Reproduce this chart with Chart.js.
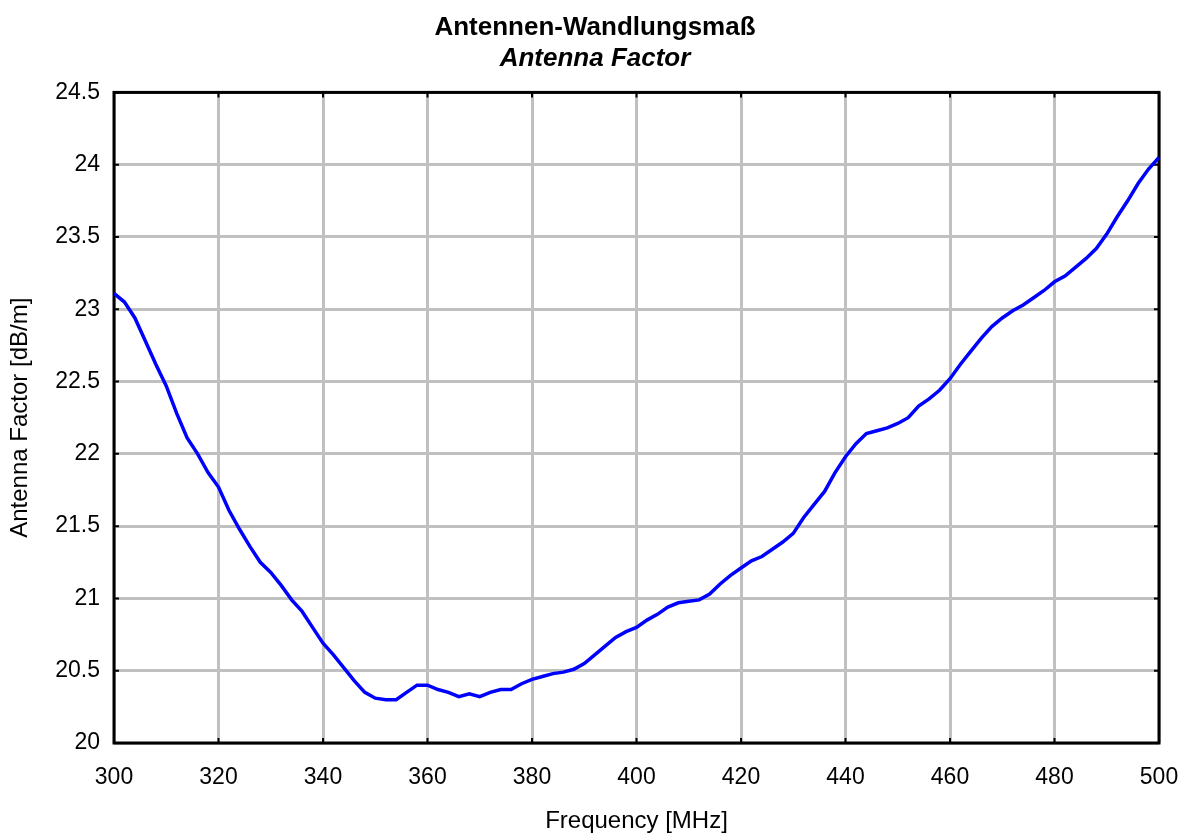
<!DOCTYPE html>
<html>
<head>
<meta charset="utf-8">
<title>Antenna Factor</title>
<script src="https://cdn.jsdelivr.net/npm/chart.js@4"></script>
<style>
  html, body { margin: 0; padding: 0; background: #fff; }
  canvas { display: block; }
</style>
</head>
<body>
<canvas id="afChart" width="1190" height="836"></canvas>
<script>
// frequency in MHz, antenna factor in dB/m
const freqMHz = [
  300, 302, 304, 306, 308, 310, 312, 314, 316, 318,
  320, 322, 324, 326, 328, 330, 332, 334, 336, 338,
  340, 342, 344, 346, 348, 350, 352, 354, 356, 358,
  360, 362, 364, 366, 368, 370, 372, 374, 376, 378,
  380, 382, 384, 386, 388, 390, 392, 394, 396, 398,
  400, 402, 404, 406, 408, 410, 412, 414, 416, 418,
  420, 422, 424, 426, 428, 430, 432, 434, 436, 438,
  440, 442, 444, 446, 448, 450, 452, 454, 456, 458,
  460, 462, 464, 466, 468, 470, 472, 474, 476, 478,
  480, 482, 484, 486, 488, 490, 492, 494, 496, 498,
  500
];
const antennaFactor = [
  23.11, 23.05, 22.94, 22.78, 22.62, 22.47, 22.28, 22.11, 22.00, 21.87,
  21.77, 21.61, 21.48, 21.36, 21.25, 21.18, 21.09, 20.99, 20.91, 20.80,
  20.69, 20.61, 20.52, 20.43, 20.35, 20.31, 20.30, 20.30, 20.35, 20.40,
  20.40, 20.37, 20.35, 20.32, 20.34, 20.32, 20.35, 20.37, 20.37, 20.41,
  20.44, 20.46, 20.48, 20.49, 20.51, 20.55, 20.61, 20.67, 20.73, 20.77,
  20.80, 20.85, 20.89, 20.94, 20.97, 20.98, 20.99, 21.03, 21.10, 21.16,
  21.21, 21.26, 21.29, 21.34, 21.39, 21.45, 21.56, 21.65, 21.74, 21.87,
  21.98, 22.07, 22.14, 22.16, 22.18, 22.21, 22.25, 22.33, 22.38, 22.44,
  22.52, 22.62, 22.71, 22.80, 22.88, 22.94, 22.99, 23.03, 23.08, 23.13,
  23.19, 23.23, 23.29, 23.35, 23.42, 23.52, 23.64, 23.75, 23.87, 23.97,
  24.05
];
const xTicks = [300, 320, 340, 360, 380, 400, 420, 440, 460, 480, 500];
const yTicks = [20, 20.5, 21, 21.5, 22, 22.5, 23, 23.5, 24, 24.5];

const titleMain = 'Antennen-Wandlungsmaß';
const titleSub = 'Antenna Factor';
const xLabel = 'Frequency [MHz]';
const yLabel = 'Antenna Factor [dB/m]';

const FONT = 'Arial, "Liberation Sans", Helvetica, sans-serif';

// black box around the plot with small inward ticks
const frameBox = {
  id: 'frameBox',
  beforeDatasetsDraw(chart) {
    const { ctx, chartArea: a, scales } = chart;
    const tl = 5;
    ctx.save();
    ctx.strokeStyle = '#000';
    ctx.lineWidth = 2;
    ctx.beginPath();
    xTicks.forEach(v => {
      const px = scales.x.getPixelForValue(v);
      ctx.moveTo(px, a.bottom); ctx.lineTo(px, a.bottom - tl);
      ctx.moveTo(px, a.top); ctx.lineTo(px, a.top + tl);
    });
    yTicks.forEach(v => {
      const py = scales.y.getPixelForValue(v);
      ctx.moveTo(a.left, py); ctx.lineTo(a.left + tl, py);
      ctx.moveTo(a.right, py); ctx.lineTo(a.right - tl, py);
    });
    ctx.stroke();
    ctx.lineWidth = 3;
    ctx.strokeRect(a.left, a.top, a.right - a.left, a.bottom - a.top);
    ctx.restore();
  }
};

const ctx = document.getElementById('afChart').getContext('2d');
const afChart = new Chart(ctx, {
  type: 'line',
  data: {
    datasets: [{
      label: titleSub,
      data: freqMHz.map((f, i) => ({ x: f, y: antennaFactor[i] })),
      borderColor: '#0000ff',
      borderWidth: 3.5,
      pointRadius: 0,
      tension: 0,
      fill: false
    }]
  },
  options: {
    responsive: false,
    animation: false,
    layout: { padding: 0 },
    plugins: {
      legend: { display: false },
      tooltip: { enabled: false },
      title: {
        display: true,
        text: titleMain,
        color: '#000',
        font: { family: FONT, size: 26, weight: 'bold' },
        padding: { top: 12, bottom: 0 }
      },
      subtitle: {
        display: true,
        text: titleSub,
        color: '#000',
        font: { family: FONT, size: 26, weight: 'bold', style: 'italic' },
        padding: { top: 0, bottom: 18 }
      }
    },
    scales: {
      x: {
        type: 'linear',
        min: 300,
        max: 500,
        afterBuildTicks: s => { s.ticks = xTicks.map(v => ({ value: v })); },
        afterFit: s => { s.height = 93; s.paddingLeft = 0; s.paddingRight = 31; },
        grid: { color: '#c0c0c0', lineWidth: 3, drawTicks: false },
        border: { display: false },
        ticks: {
          color: '#000',
          padding: 21,
          maxRotation: 0,
          font: { family: FONT, size: 23 }
        },
        title: {
          display: true,
          text: xLabel,
          color: '#000',
          font: { family: FONT, size: 24 },
          padding: { top: 0, bottom: 0 }
        }
      },
      y: {
        min: 20,
        max: 24.5,
        afterBuildTicks: s => { s.ticks = yTicks.map(v => ({ value: v })); },
        afterFit: s => { s.width = 114; },
        grid: { color: '#c0c0c0', lineWidth: 3, drawTicks: false },
        border: { display: false },
        ticks: {
          color: '#000',
          padding: 14,
          font: { family: FONT, size: 23 },
          callback: v => String(v)
        },
        title: {
          display: true,
          text: yLabel,
          color: '#000',
          font: { family: FONT, size: 24 },
          padding: { top: 6, bottom: 0 }
        }
      }
    }
  },
  plugins: [frameBox]
});
</script>
</body>
</html>
